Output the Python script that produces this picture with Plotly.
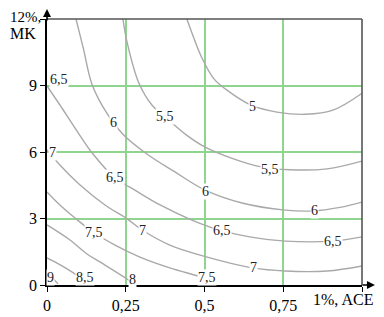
import plotly.graph_objects as go

# x: ACE share (0..1 %), y: MK share (0..12 %)
x_ticks = [0, 0.25, 0.5, 0.75, 1]
x_ticktext = ["0", "0,25", "0,5", "0,75", ""]
y_ticks = [0, 3, 6, 9, 12]
y_ticktext = ["0", "3", "6", "9", ""]

# contour lines (x, y in data units)
c5_x = [0.444, 0.462, 0.490, 0.530, 0.580, 0.650, 0.730, 0.820, 0.910, 1.0]
c5_y = [12.0, 11.3, 10.3, 9.3, 8.7, 8.1, 7.8, 7.7, 7.9, 8.65]

c55_x = [0.241, 0.255, 0.292, 0.333, 0.375, 0.444, 0.502, 0.590, 0.676, 0.771, 0.889, 1.0]
c55_y = [12.0, 10.9, 9.1, 8.12, 7.58, 6.75, 6.22, 5.70, 5.34, 5.20, 5.24, 5.59]

c6_x = [0.092, 0.115, 0.143, 0.190, 0.241, 0.317, 0.406, 0.502, 0.619, 0.756, 0.844, 0.930, 1.0]
c6_y = [12.0, 10.7, 9.05, 7.75, 6.80, 5.91, 5.10, 4.28, 3.70, 3.38, 3.34, 3.50, 3.74]

c65_x = [0.0, 0.041, 0.089, 0.146, 0.216, 0.279, 0.359, 0.460, 0.556, 0.644, 0.756, 0.908, 1.0]
c65_y = [8.98, 8.12, 7.08, 5.91, 4.83, 4.28, 3.61, 2.93, 2.44, 2.17, 1.98, 1.98, 2.17]

c7_x = [0.0, 0.041, 0.105, 0.184, 0.251, 0.302, 0.390, 0.486, 0.654, 0.756, 0.889, 1.0]
c7_y = [6.09, 5.41, 4.51, 3.61, 3.02, 2.48, 1.80, 1.35, 0.77, 0.63, 0.63, 0.86]

c75_x = [0.0, 0.041, 0.089, 0.146, 0.216, 0.295, 0.390, 0.508, 0.533]
c75_y = [4.20, 3.61, 3.02, 2.39, 1.80, 1.26, 0.77, 0.27, 0.08]

c8_x = [0.0, 0.073, 0.127, 0.168, 0.254, 0.275]
c8_y = [2.71, 2.03, 1.40, 1.04, 0.27, 0.05]

c85_x = [0.0, 0.048, 0.098, 0.135]
c85_y = [1.22, 0.86, 0.41, 0.05]

c9_x = [0.0, 0.035]
c9_y = [0.59, 0.05]

contours = [(c5_x, c5_y), (c55_x, c55_y), (c6_x, c6_y), (c65_x, c65_y),
            (c7_x, c7_y), (c75_x, c75_y), (c8_x, c8_y), (c85_x, c85_y), (c9_x, c9_y)]

# contour labels
lab_text = ["5", "5,5", "5,5", "6", "6", "6", "6,5", "6,5", "6,5", "6,5",
            "7", "7", "7", "7,5", "7,5", "8", "8,5", "9"]
lab_x = [0.651, 0.375, 0.708, 0.210, 0.502, 0.848, 0.038, 0.216, 0.556, 0.908,
         0.016, 0.302, 0.654, 0.149, 0.508, 0.270, 0.121, 0.012]
lab_y = [8.07, 7.58, 5.23, 7.35, 4.20, 3.38, 9.25, 4.83, 2.44, 1.98,
         6.0, 2.48, 0.77, 2.39, 0.32, 0.25, 0.32, 0.32]

fig = go.Figure()
for cx, cy in contours:
    fig.add_trace(go.Scatter(x=cx, y=cy, mode="lines",
                             line=dict(color="#a9a9a9", width=1.4, shape="spline", smoothing=1.0),
                             hoverinfo="skip", showlegend=False, cliponaxis=True))

serif = "Liberation Serif"
ann = []
for t, x, y in zip(lab_text, lab_x, lab_y):
    ann.append(dict(x=x, y=y, xref="x", yref="y", text=t, showarrow=False,
                    xanchor="center", yanchor="middle",
                    font=dict(family=serif, size=14, color="#222222"),
                    bgcolor="white", borderpad=0))

# axis end labels (paper coordinates)
ann.append(dict(x=0.94, y=-0.056, xref="paper", yref="paper", text="1%, ACE", showarrow=False,
                xanchor="center", yanchor="middle",
                font=dict(family=serif, size=16, color="black")))
ann.append(dict(x=-0.124, y=1.006, xref="paper", yref="paper", text="12%,", showarrow=False,
                xanchor="left", yanchor="middle", font=dict(family=serif, size=15, color="black")))
ann.append(dict(x=-0.124, y=0.945, xref="paper", yref="paper", text="MK", showarrow=False,
                xanchor="left", yanchor="middle", font=dict(family=serif, size=16, color="black")))
# axis arrows
ann.append(dict(x=0, y=1.041, xref="paper", yref="paper", ax=0, ay=14,
                text="", showarrow=True, arrowhead=2, arrowsize=1, arrowwidth=1.6, arrowcolor="black"))
ann.append(dict(x=1.041, y=0, xref="paper", yref="paper", ax=-14, ay=0,
                text="", showarrow=True, arrowhead=2, arrowsize=1, arrowwidth=1.6, arrowcolor="black"))

shapes = [
    dict(type="line", xref="paper", yref="paper", x0=0, x1=1, y0=1, y1=1, line=dict(color="#555", width=1.6)),
    dict(type="line", xref="paper", yref="paper", x0=1, x1=1, y0=0, y1=1, line=dict(color="#555", width=1.6)),
]

# page body has an 8px margin: figure is shifted accordingly
fig.update_layout(
    width=376, height=309,
    margin=dict(l=39, r=22, t=11, b=32, autoexpand=False),
    paper_bgcolor="white", plot_bgcolor="white",
    font=dict(family=serif, size=16, color="black"),
    annotations=ann, shapes=shapes,
    xaxis=dict(range=[0, 1], tickvals=x_ticks, ticktext=x_ticktext,
               showgrid=True, gridcolor="#8fd48f", gridwidth=1.5,
               showline=True, linecolor="black", linewidth=1.6,
               ticks="outside", ticklen=5, tickcolor="black", automargin=False,
               tickfont=dict(family=serif, size=16, color="black"), zeroline=False),
    yaxis=dict(range=[0, 12], tickvals=y_ticks, ticktext=y_ticktext,
               showgrid=True, gridcolor="#8fd48f", gridwidth=1.5,
               showline=True, linecolor="black", linewidth=1.6,
               ticks="outside", ticklen=5, tickcolor="black", automargin=False,
               tickfont=dict(family=serif, size=16, color="black"), zeroline=False),
)

fig.write_html("out.html")
